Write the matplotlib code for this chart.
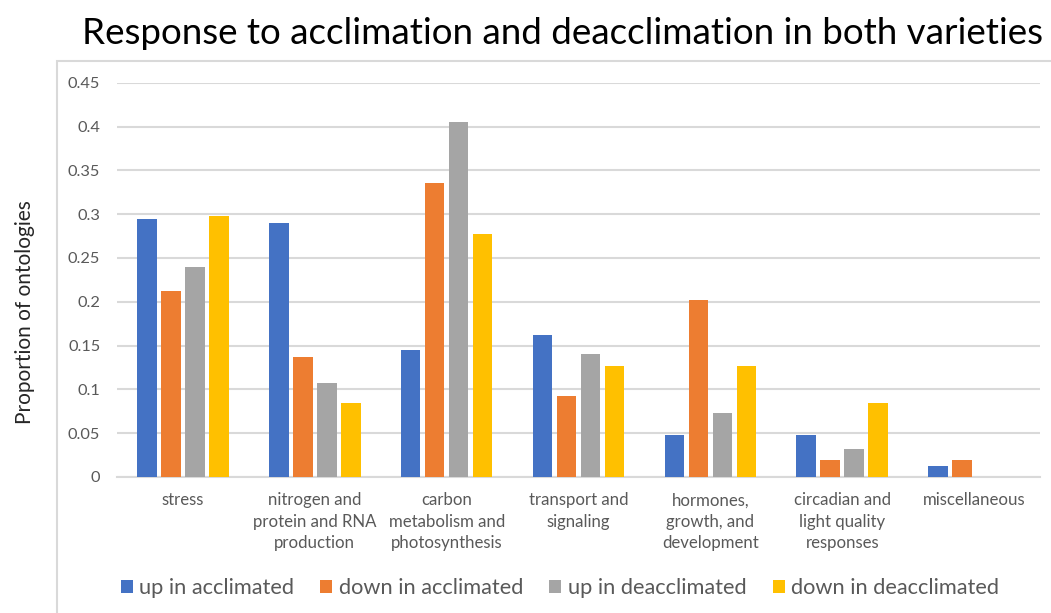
import matplotlib
matplotlib.use("Agg")
import matplotlib.pyplot as plt
import numpy as np
from matplotlib.patches import Rectangle, Patch

plt.rcParams['font.family'] = ['Lato', 'DejaVu Sans']

categories = ["stress",
              "nitrogen and\nprotein and RNA\nproduction",
              "carbon\nmetabolism and\nphotosynthesis",
              "transport and\nsignaling",
              "hormones,\ngrowth, and\ndevelopment",
              "circadian and\nlight quality\nresponses",
              "miscellaneous"]
series_names = ["up in acclimated", "down in acclimated",
                "up in deacclimated", "down in deacclimated"]
up_acclimated = [0.295, 0.290, 0.145, 0.162, 0.048, 0.048, 0.012]
down_acclimated = [0.212, 0.137, 0.335, 0.093, 0.202, 0.019, 0.019]
up_deacclimated = [0.240, 0.107, 0.405, 0.140, 0.073, 0.032, 0.0]
down_deacclimated = [0.298, 0.084, 0.277, 0.127, 0.127, 0.084, 0.0]
yticks = [0, 0.05, 0.1, 0.15, 0.2, 0.25, 0.3, 0.35, 0.4, 0.45]
ytick_labels = ["0", "0.05", "0.1", "0.15", "0.2", "0.25", "0.3", "0.35", "0.4", "0.45"]

colors = ["#4472C4", "#ED7D31", "#A5A5A5", "#FFC000"]
series = [up_acclimated, down_acclimated, up_deacclimated, down_deacclimated]

W, H = 1051, 613
fig = plt.figure(figsize=(W / 100, H / 100), dpi=100)

# chart border
fig.patches.append(Rectangle((57 / W, -0.1), 1.2, (H - 61) / H + 0.1,
                             transform=fig.transFigure, fill=False,
                             edgecolor="#D9D9D9", linewidth=1.5))

ax = fig.add_axes([117 / W, 1 - 477 / H, (1040 - 117) / W, (477 - 82.7) / H])
x = np.arange(len(categories))
pitch = 0.182
bw = 0.148
for i, (vals, c) in enumerate(zip(series, colors)):
    ax.bar(x + (i - 1.5) * pitch, vals, width=bw, color=c, zorder=3,
           label=series_names[i])

ax.set_xlim(-0.5, len(categories) - 0.5)
ax.set_ylim(0, 0.45)
ax.set_yticks(yticks)
ax.set_yticklabels(ytick_labels)
ax.set_xticks(x)
ax.set_xticklabels(categories, linespacing=1.42)
ax.tick_params(axis='both', length=0, colors="#595959")
ax.tick_params(axis='y', pad=12, labelsize=11.8)
ax.tick_params(axis='x', pad=11, labelsize=12.1)
for lab in ax.get_xticklabels():
    lab.set_verticalalignment('top')
ax.grid(axis='y', color="#D9D9D9", linewidth=1.5, zorder=0)
for s in ["top", "right", "left"]:
    ax.spines[s].set_visible(False)
ax.spines["bottom"].set_color("#D9D9D9")
ax.spines["bottom"].set_linewidth(1.5)

fig.text(562 / W, 1 - 33 / H, "Response to acclimation and deacclimation in both varieties",
         ha="center", va="center", fontsize=26.5, color="#000000")
fig.text(25 / W, 1 - 312 / H, "Proportion of ontologies", rotation=90,
         ha="center", va="center", fontsize=15, color="#262626")

handles = [Patch(facecolor=c, edgecolor='none') for c in colors]
fig.legend(handles, series_names, loc="center", bbox_to_anchor=(560 / W, 1 - 588 / H),
           ncol=4, frameon=False, fontsize=15.7, handlelength=0.55, handleheight=0.55,
           handletextpad=0.3, columnspacing=1.2, labelcolor="#595959")

fig.savefig("out.png", dpi=100)
